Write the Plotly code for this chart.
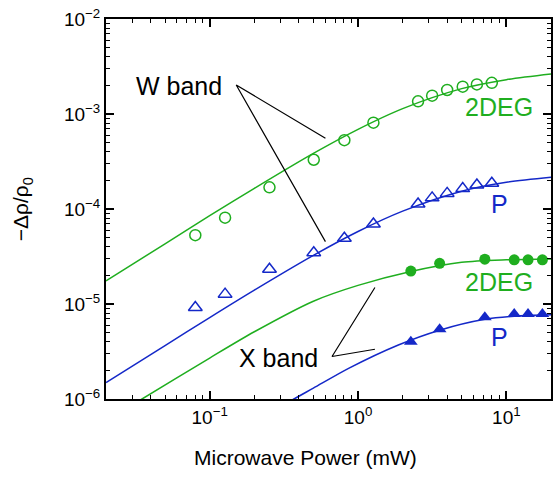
import plotly.graph_objects as go

# ---- data ----
power_pts = [0.08, 0.127, 0.253, 0.503, 0.809, 1.27, 2.54, 3.16, 3.99, 5.08, 6.33, 7.98]
w_2deg = [5.3e-5, 8.1e-5, 1.69e-4, 3.3e-4, 5.3e-4, 8.1e-4, 1.36e-3, 1.56e-3, 1.79e-3, 1.94e-3, 2.05e-3, 2.13e-3]
w_p = [9.2e-6, 1.27e-5, 2.32e-5, 3.47e-5, 4.92e-5, 6.95e-5, 1.13e-4, 1.31e-4, 1.46e-4, 1.64e-4, 1.79e-4, 1.87e-4]

x_power_pts = [2.27, 3.55, 7.16, 11.3, 14.0, 17.5]
x_2deg = [2.22e-5, 2.68e-5, 2.96e-5, 2.92e-5, 2.92e-5, 2.92e-5]
x_p = [4.0e-6, 5.42e-6, 7.24e-6, 7.85e-6, 7.85e-6, 7.85e-6]

# fit curves
fit_w_x = [0.02, 0.05, 0.1, 0.2, 0.5, 1, 2, 5, 10, 20]
fit_w_2deg = [1.75e-5, 4.3e-5, 8.5e-5, 1.65e-4, 3.85e-4, 6.9e-4, 1.14e-3, 1.85e-3, 2.3e-3, 2.64e-3]
fit_w_p = [1.49e-6, 3.65e-6, 7.2e-6, 1.4e-5, 3.25e-5, 5.8e-5, 9.5e-5, 1.54e-4, 1.91e-4, 2.16e-4]
fit_x2_x = [0.02, 0.035, 0.1, 0.2, 0.5, 1, 2.27, 5, 10, 20]
fit_x_2deg = [0.59e-6, 1.0e-6, 2.7e-6, 5.1e-6, 1.07e-5, 1.57e-5, 2.2e-5, 2.75e-5, 2.92e-5, 2.98e-5]
fit_xp_x = [0.25, 0.37, 0.5, 0.864, 1.87, 3.55, 7.16, 11.3, 20]
fit_x_p = [0.7e-6, 1.0e-6, 1.3e-6, 2.1e-6, 3.7e-6, 5.3e-6, 6.9e-6, 7.45e-6, 7.7e-6]

# pointer lines for the band labels
wband_x = [0.603, 0.151, 0.603]
wband_y = [5.55e-4, 2.02e-3, 4.53e-5]
xband_x = [1.30, 0.668, 1.30]
xband_y = [1.49e-5, 2.80e-6, 3.34e-6]

x_tickvals = [0.1, 1, 10]
x_ticktext = ["10<sup>−1</sup>", "10<sup>0</sup>", "10<sup>1</sup>"]
y_tickvals = [1e-6, 1e-5, 1e-4, 1e-3, 1e-2]
y_ticktext = ["10<sup>−6</sup>", "10<sup>−5</sup>", "10<sup>−4</sup>", "10<sup>−3</sup>", "10<sup>−2</sup>"]
x_minor = [m * 10.0 ** e for e in (-2, -1, 0, 1) for m in range(2, 10)]
y_minor = [m * 10.0 ** e for e in (-6, -5, -4, -3) for m in range(2, 10)]

GREEN = "#1fae1f"
BLUE = "#1428c8"
FONT = "Liberation Sans, Arial, Helvetica, sans-serif"

fig = go.Figure()

def curve(x, y, color):
    fig.add_trace(go.Scatter(x=x, y=y, mode="lines", line=dict(color=color, width=1.5, shape="spline", smoothing=0.8),
                             hoverinfo="skip", showlegend=False))

curve(fit_w_x, fit_w_2deg, GREEN)
curve(fit_w_x, fit_w_p, BLUE)
curve(fit_x2_x, fit_x_2deg, GREEN)
curve(fit_xp_x, fit_x_p, BLUE)

fig.add_trace(go.Scatter(x=power_pts, y=w_2deg, mode="markers", showlegend=False,
                         marker=dict(symbol="circle-open", size=11, color=GREEN, line=dict(width=1.5, color=GREEN))))
fig.add_trace(go.Scatter(x=power_pts, y=w_p, mode="markers", showlegend=False,
                         marker=dict(symbol="triangle-up-open", size=12, color=BLUE, line=dict(width=1.5, color=BLUE))))
fig.add_trace(go.Scatter(x=x_power_pts, y=x_2deg, mode="markers", showlegend=False,
                         marker=dict(symbol="circle", size=11, color=GREEN)))
fig.add_trace(go.Scatter(x=x_power_pts, y=x_p, mode="markers", showlegend=False,
                         marker=dict(symbol="triangle-up", size=12, color=BLUE)))

fig.add_trace(go.Scatter(x=wband_x, y=wband_y, mode="lines", line=dict(color="black", width=1.2),
                         hoverinfo="skip", showlegend=False))
fig.add_trace(go.Scatter(x=xband_x, y=xband_y, mode="lines", line=dict(color="black", width=1.2),
                         hoverinfo="skip", showlegend=False))

axis_common = dict(
    type="log", showline=True, linewidth=2, linecolor="black", mirror="allticks",
    ticks="inside", ticklen=8, tickwidth=1.5, tickcolor="black",
    showgrid=False, zeroline=False, tickmode="array",
    tickfont=dict(family=FONT, size=19, color="black"),
)

fig.update_xaxes(**axis_common, range=[-1.699, 1.301], tickvals=x_tickvals, ticktext=x_ticktext,
                 minor=dict(tickmode="array", tickvals=x_minor, ticks="inside", ticklen=4, tickwidth=1.2, tickcolor="black", showgrid=False))
fig.update_yaxes(**axis_common, range=[-6, -2], tickvals=y_tickvals, ticktext=y_ticktext,
                 minor=dict(tickmode="array", tickvals=y_minor, ticks="inside", ticklen=4, tickwidth=1.2, tickcolor="black", showgrid=False))

def label(text, lx, ly, color, size=25):
    fig.add_annotation(text=text, x=lx, y=ly, xref="x", yref="y", showarrow=False,
                       font=dict(family=FONT, size=size, color=color), xanchor="center", yanchor="middle")

label("W band", -1.207, -2.705, "black")
label("X band", -0.5385, -5.568, "black")
label("2DEG", 0.951, -2.929, GREEN)
label("P", 0.951, -3.947, BLUE)
label("2DEG", 0.951, -4.772, GREEN)
label("P", 0.951, -5.351, BLUE)

fig.add_annotation(text="Microwave Power (mW)", x=0.449, y=-0.155, xref="paper", yref="paper", showarrow=False,
                   font=dict(family=FONT, size=21, color="black"), xanchor="center", yanchor="middle")
fig.add_annotation(text="−Δρ/ρ<sub>0</sub>", x=-0.188, y=0.5, xref="paper", yref="paper", showarrow=False,
                   textangle=-90, font=dict(family=FONT, size=21, color="black"), xanchor="center", yanchor="middle")

fig.update_layout(
    width=553, height=479,
    margin=dict(l=106, r=0, t=19, b=80),
    paper_bgcolor="white", plot_bgcolor="white",
    showlegend=False,
)

fig.write_html("out.html")
